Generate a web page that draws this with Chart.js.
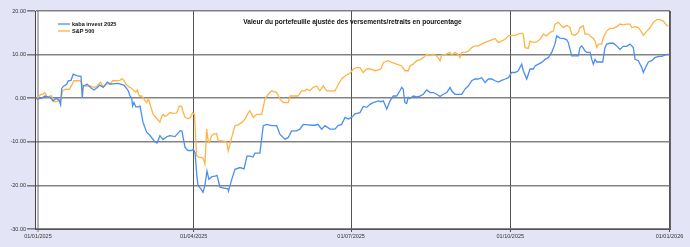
<!DOCTYPE html>
<html>
<head>
<meta charset="utf-8">
<script src="https://cdn.jsdelivr.net/npm/chart.js@4/dist/chart.umd.min.js"></script>
<style>
  html, body { margin: 0; padding: 0; background: #e4e4f7; }
  #wrap { width: 690px; height: 247px; }
</style>
</head>
<body>
<div id="wrap"><canvas id="chart" width="690" height="247"></canvas></div>
<script>
// jours depuis le 01/01/2025 et valeurs en %
const kabaDays = [-1.2, -0.2, 2.1, 4.0, 6.9, 8.8, 10.8, 12.3, 13.1, 13.7, 14.6, 16.6, 17.5, 19.1, 20.4, 22.7, 24.9, 25.6, 26.2, 28.5,
  30.6, 32.4, 34.5, 35.8, 37.7, 40.1, 42.0, 43.2, 46.4, 49.7, 50.9, 52.2, 53.2, 54.2, 54.7, 55.5, 56.6, 58.1, 59.0, 60.7,
  62.8, 64.7, 67.6, 68.8, 70.5, 72.3, 74.6, 76.3, 79.2, 82.1, 83.2, 85.0, 86.7, 88.8, 89.8, 90.8, 91.9, 92.5, 94.2, 95.4,
  96.5, 97.7, 98.8, 100.6, 102.3, 103.5, 105.2, 107.5, 109.8, 110.1, 112.1, 113.9, 116.8, 119.1, 120.8, 122.5, 124.3, 125.4, 128.3, 130.2,
  132.2, 135.1, 138.0, 139.9, 142.8, 144.7, 146.6, 149.5, 151.4, 153.4, 156.1, 158.2, 160.1, 161.8, 164.0, 165.9, 168.8, 171.7, 173.4, 175.5,
  177.5, 179.4, 181.3, 182.3, 183.2, 186.1, 188.0, 190.0, 191.9, 193.8, 196.7, 198.3, 199.6, 201.6, 203.5, 205.4, 207.3, 209.2, 210.2, 211.1,
  212.1, 213.1, 214.0, 215.0, 216.9, 218.9, 220.8, 222.7, 224.7, 226.6, 228.5, 230.5, 232.4, 234.3, 236.3, 238.2, 239.1, 241.0, 243.0, 244.9,
  246.8, 248.7, 250.7, 252.6, 254.3, 256.5, 258.4, 260.3, 262.3, 264.2, 266.1, 268.0, 270.1, 271.9, 273.8, 275.7, 277.6, 279.6, 280.5, 282.5,
  284.4, 286.3, 287.3, 289.2, 291.2, 293.1, 295.0, 296.9, 298.8, 299.8, 301.7, 303.6, 305.6, 306.5, 308.5, 310.4, 312.3, 313.3, 314.3, 315.2,
  316.2, 317.2, 319.1, 320.1, 321.0, 322.0, 323.0, 324.9, 326.4, 327.7, 328.7, 330.6, 332.6, 334.5, 336.4, 338.3, 340.3, 342.2, 343.2, 344.1,
  345.1, 347.0, 349.0, 349.9, 350.9, 352.8, 354.7, 356.6, 358.6, 360.5, 362.4, 364.3];
const kabaValues = [0, -0.2, 0, 0.5, 0.2, -0.6, 0, -0.5, -1.5, 2.2, 2.7, 3.2, 4, 4.1, 5.5, 5.1, 5, 0.1, 2.8, 3.2,
  2.4, 1.9, 2.5, 3, 2.5, 3.7, 3.2, 3.3, 3.4, 3, 2.4, 1.7, 0.5, 0, -1.8, -1, -2, -2, -1.8, -5.5,
  -7.8, -8.5, -10, -10.3, -8.6, -9.5, -8.8, -8.6, -8.8, -7.5, -7.5, -11.3, -12, -12, -11.7, -12.5, -18, -20, -20.8, -21.6,
  -20, -16.7, -18.6, -18, -17.9, -17.7, -20.4, -20.6, -20.8, -21.3, -18.5, -16.3, -15.9, -16.2, -13.3, -13.3, -13.5, -12.6, -12.6, -6.3,
  -6, -6.3, -6.3, -8.3, -9.4, -9, -7.5, -7.5, -7.1, -6, -6.1, -6.2, -6.2, -6, -7.1, -6.3, -7.1, -7.1, -6.3, -6,
  -4.4, -4.8, -4.4, -4, -3.6, -3.3, -1.9, -2.1, -1.4, -1, -0.6, -0.8, -0.6, -2.5, -0.6, 0.5, 0.5, 1.7, 2.5, 2.1,
  -1, -1.2, 0.2, -0.1, 0.5, 0.3, 0.5, 0.9, 1.9, 1.3, 1.3, 0.9, 0.4, 0.9, 1.3, 2.5, 1.7, 0.9, 0.9, 0.9,
  2.1, 2.8, 4, 4.4, 4.4, 4.7, 3.6, 4.4, 4.4, 4, 3.7, 4.1, 4.4, 4.7, 5.9, 5.9, 6.3, 7.8, 6.3, 4.4,
  6.7, 6.7, 7.4, 7.8, 8.2, 8.9, 9.3, 10.5, 12.4, 14.3, 13.8, 13.7, 13.4, 12.8, 9.7, 9.7, 9.7, 11.6, 12, 11.5,
  10.8, 10.5, 10.5, 8.9, 7.8, 8.9, 8.3, 8.3, 8.3, 11.6, 12.4, 12.6, 12.6, 12, 11.2, 11.9, 11.9, 12.4, 12, 11.6,
  8.9, 8.6, 7, 5.9, 6.8, 8.3, 8.6, 9.3, 9.6, 9.6, 9.9, 10.1];

const spDays = [-1.2, -0.2, 1.6, 2.9, 4.0, 5.2, 6.0, 6.9, 7.9, 8.8, 10.8, 12.3, 13.3, 14.3, 15.6, 16.6, 18.1, 19.5, 20.8, 22.7,
  24.3, 25.3, 26.2, 27.7, 29.1, 31.0, 32.4, 33.9, 34.9, 36.2, 37.4, 38.7, 40.1, 41.6, 43.2, 45.1, 47.4, 48.6, 49.7, 50.9,
  52.2, 53.2, 55.1, 56.6, 57.4, 58.6, 59.9, 61.3, 62.8, 63.8, 65.1, 66.6, 68.6, 70.5, 71.7, 72.4, 73.4, 74.6, 76.3, 78.0,
  80.2, 81.7, 83.1, 84.0, 85.0, 86.7, 87.9, 89.4, 90.5, 91.7, 92.8, 94.6, 95.5, 96.5, 97.5, 98.4, 99.1, 100.4, 101.2, 103.3,
  104.2, 106.4, 108.1, 109.2, 110.0, 112.0, 113.9, 115.6, 117.7, 119.7, 121.6, 122.5, 124.5, 126.4, 129.3, 131.2, 133.1, 135.1, 138.0, 139.9,
  141.8, 144.7, 145.7, 147.6, 150.3, 152.4, 154.3, 155.3, 157.2, 159.1, 161.1, 163.0, 164.9, 166.9, 169.8, 171.7, 173.6, 175.5, 177.5, 180.3,
  182.3, 184.2, 186.1, 188.0, 190.0, 191.9, 194.8, 196.7, 198.3, 199.6, 202.5, 204.4, 207.3, 210.2, 212.1, 214.0, 215.0, 216.9, 218.9, 220.8,
  222.7, 224.7, 226.6, 228.5, 230.5, 232.4, 233.3, 235.3, 238.2, 239.1, 241.0, 243.0, 243.9, 244.9, 246.8, 248.7, 250.7, 252.6, 254.5, 256.5,
  258.4, 260.3, 262.3, 264.2, 266.1, 268.0, 270.0, 271.9, 273.8, 275.7, 277.6, 279.6, 280.5, 281.5, 283.4, 284.4, 286.3, 288.2, 290.2, 292.1,
  294.0, 295.9, 297.9, 298.8, 300.8, 302.7, 303.6, 305.6, 307.5, 308.5, 310.4, 312.3, 313.3, 315.2, 316.2, 317.9, 319.1, 321.0, 322.0, 323.0,
  323.9, 325.8, 326.8, 328.7, 330.6, 332.6, 334.5, 336.4, 338.3, 340.3, 342.2, 343.2, 345.1, 347.0, 349.0, 349.9, 351.9, 353.8, 355.7, 357.6,
  359.5, 361.4, 363.4, 364.3];
const spValues = [0, 0, 0.9, 0.9, 1.3, 0.3, 0.2, 0.5, 0.5, -0.8, -0.8, -0.5, -0.2, 1.7, 2, 2.1, 2, 3, 4, 4,
  4, 3.4, 2.8, 2.8, 2.8, 2.7, 2.5, 2.7, 3.1, 3.7, 2.7, 2.8, 3.4, 3.2, 4, 4, 4.1, 4.5, 4.1, 3.2,
  2.7, 2.5, 1.9, 1.4, 1.9, 0.5, 0.5, -0.2, -1, -0.2, -1.8, -3.7, -4.6, -5.5, -4, -3.7, -4.2, -3.9, -3.3, -3.5,
  -3.4, -1.8, -1.9, -3.3, -4.3, -4.7, -4.5, -3.3, -3.8, -13.2, -13.5, -13.6, -13.8, -15.1, -7.1, -9.8, -10.1, -8.6, -8.3, -8.1,
  -9.8, -9.8, -9.9, -10.2, -12.1, -9, -6.3, -6.1, -5.6, -4.8, -3.3, -2.9, -4.4, -3.7, -3.7, -0.2, 0.9, 1.7, 1.3, -0.2,
  -1, -1, 0.5, 0.5, 0.5, 1.7, 1.7, 2.1, 1.7, 2.5, 2.8, 1.7, 2.8, 1.7, 1.7, 1.7, 3.2, 4.4, 5.1, 5.7,
  6.7, 7, 7, 5.9, 6.7, 6.7, 6.3, 6.5, 6.8, 8.2, 8.6, 8.2, 7.8, 7.4, 6.3, 6.3, 7.4, 7.8, 8.6, 8.8,
  9.3, 10.1, 9.8, 10.1, 9.7, 8.6, 9.9, 10, 10.5, 9.9, 10.5, 10, 9.3, 10.5, 10.5, 10.8, 11.6, 12, 12, 12.4,
  12.8, 13.1, 13.4, 13.7, 12.8, 13.1, 13.5, 14.3, 14.4, 14.4, 14.7, 14.9, 14.7, 11.6, 11.4, 13.1, 12.8, 12.9, 13.5, 14.7,
  14.3, 15.1, 15.4, 17, 17.4, 16.6, 16.2, 16.7, 16.2, 14.7, 14.4, 15.1, 16.2, 16.6, 14.7, 14.7, 14.3, 13.7, 13.1, 11.6,
  12.4, 12.4, 13.9, 15.4, 16, 16, 16.4, 17, 16.8, 17, 17, 16.2, 16.4, 16.2, 15.1, 14.4, 15.4, 16.2, 17.4, 18,
  18, 17.7, 16.7, 16.5];

const tickDays = [0, 90, 181, 273, 365];
const tickLabels = ['01/01/2025', '01/04/2025', '01/07/2025', '01/10/2025', '01/01/2026'];
const seriesNames = ['kaba invest 2025', 'S&P 500'];
const seriesColors = ['#4a8ef0', '#ffb444'];
const chartTitle = 'Valeur du portefeuille ajustée des versements/retraits en pourcentage';

const toPoints = (days, vals) => days.map((d, i) => ({ x: d, y: vals[i] }));

// fond lavande + zone blanche, titre et légende dans la zone de tracé
const decor = {
  id: 'decor',
  beforeDraw(chart) {
    const { ctx, chartArea: a } = chart;
    ctx.save();
    ctx.fillStyle = '#e4e4f7';
    ctx.fillRect(0, 0, chart.width, chart.height);
    ctx.fillStyle = '#ffffff';
    ctx.fillRect(a.left, a.top, a.right - a.left, a.bottom - a.top);
    ctx.restore();
  },
  afterDraw(chart) {
    const { ctx, chartArea: a } = chart;
    ctx.save();
    ctx.strokeStyle = '#666';
    ctx.lineWidth = 1;
    ctx.beginPath();
    ctx.moveTo(a.right + 0.5, a.top);
    ctx.lineTo(a.right + 0.5, a.bottom);
    ctx.stroke();

    ctx.fillStyle = '#111';
    ctx.font = 'bold 6.6px "Liberation Sans"';
    ctx.textAlign = 'center';
    ctx.textBaseline = 'middle';
    ctx.fillText(chartTitle, (a.left + a.right) / 2, a.top + 11.5);

    ctx.font = 'bold 5.6px "Liberation Sans"';
    ctx.textAlign = 'left';
    chart.data.datasets.forEach((ds, i) => {
      const y = a.top + 13 + i * 7;
      ctx.strokeStyle = ds.borderColor;
      ctx.lineWidth = 1.3;
      ctx.beginPath();
      ctx.moveTo(a.left + 23, y);
      ctx.lineTo(a.left + 35, y);
      ctx.stroke();
      ctx.fillStyle = '#111';
      ctx.fillText(ds.label, a.left + 37, y);
    });
    ctx.restore();
  }
};

new Chart(document.getElementById('chart'), {
  type: 'line',
  data: {
    datasets: [
      { label: seriesNames[0], data: toPoints(kabaDays, kabaValues), borderColor: seriesColors[0] },
      { label: seriesNames[1], data: toPoints(spDays, spValues), borderColor: seriesColors[1] }
    ]
  },
  options: {
    responsive: false,
    animation: false,
    layout: { padding: { top: 11, right: 20, left: 0, bottom: 0 } },
    elements: {
      line: { borderWidth: 1.3, tension: 0, fill: false },
      point: { radius: 0 }
    },
    plugins: { legend: { display: false }, title: { display: false }, tooltip: { enabled: false } },
    scales: {
      x: {
        type: 'linear',
        min: -1.7,
        max: 365.3,
        afterFit(scale) { scale.height = 18; },
        afterBuildTicks(scale) { scale.ticks = tickDays.map(v => ({ value: v })); },
        grid: {
          color: ctx => ctx.index === 0 ? '#b4b4b4' : '#555',
          lineWidth: ctx => ctx.index === 0 ? 2 : 1,
          tickLength: 3
        },
        border: { color: '#555', width: 1 },
        ticks: {
          autoSkip: false,
          maxRotation: 0,
          padding: 1,
          color: '#333',
          font: { family: 'Liberation Sans', size: 5.5 },
          callback: v => tickLabels[tickDays.indexOf(v)]
        }
      },
      y: {
        min: -30,
        max: 20,
        afterFit(scale) { scale.width = 35; },
        grid: { color: 'rgba(100,100,100,0.8)', lineWidth: 1.6, tickLength: 8 },
        border: { color: '#444', width: 1 },
        ticks: {
          stepSize: 10,
          padding: 1,
          color: '#333',
          font: { family: 'Liberation Sans', size: 5.5 },
          callback: v => v.toFixed(2)
        }
      }
    }
  },
  plugins: [decor]
});
</script>
</body>
</html>
